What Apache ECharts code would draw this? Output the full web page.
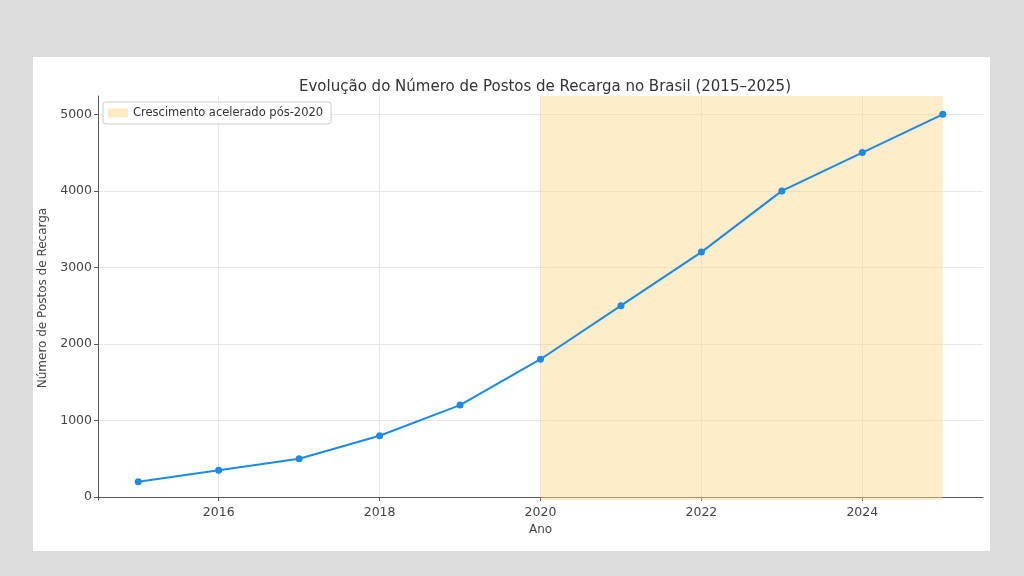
<!DOCTYPE html>
<html><head><meta charset="utf-8">
<script src="https://cdn.jsdelivr.net/npm/echarts@6/dist/echarts.min.js"></script>
<style>html,body{margin:0;padding:0;background:#dcdcdc;}#c{width:1024px;height:576px;}</style>
</head><body><div id="c"></div>
<script>
const years = [2015,2016,2017,2018,2019,2020,2021,2022,2023,2024,2025];
const postos = [200,350,500,800,1200,1800,2500,3200,4000,4500,5000];
const xTicks = [2016,2018,2020,2022,2024];
const yTicks = [0,1000,2000,3000,4000,5000];
const shadeRange = [2020,2025];
const shadeName = 'Crescimento acelerado pós-2020';
const titleText = 'Evolução do Número de Postos de Recarga no Brasil (2015–2025)';

const font = 'DejaVu Sans';
const chart = echarts.init(document.getElementById('c'));
chart.setOption({
  backgroundColor: '#dcdcdc',
  animation: false,
  textStyle: {fontFamily: font},
  graphic: [{type:'rect', z:-10, shape:{x:33,y:57,width:957,height:494}, style:{fill:'#ffffff'}}],
  title: {text: titleText, left: 540, textAlign: 'center', top: 75,
    textStyle:{fontFamily:font, fontSize:15, fontWeight:'normal', color:'#333'}},
  legend: {data:[shadeName], left:103, top:102, orient:'vertical',
    icon:'rect', itemWidth:20, itemHeight:9, itemGap:4,
    backgroundColor:'#ffffff', borderColor:'#cccccc', borderWidth:1, borderRadius:3,
    padding:[5,8,5,5],
    textStyle:{fontFamily:font, fontSize:11.5, color:'#333'}},
  grid: {left:98, right:41, top:96, bottom:76},
  xAxis: {type:'value', min:2014.5, max:2025.5, name:'Ano', nameLocation:'middle', nameGap:22,
    nameTextStyle:{fontFamily:font, fontSize:12, color:'#444'},
    axisLine:{show:true, lineStyle:{color:'#555', width:1}},
    axisTick:{show:true, length:4, customValues:xTicks, lineStyle:{color:'#555'}},
    axisLabel:{customValues:xTicks, fontFamily:font, fontSize:12.5, color:'#444', margin:6, formatter:v=>String(v)},
    splitLine:{show:true, lineStyle:{color:'#e6e6e6', type:'solid', width:1}}},
  yAxis: {type:'value', min:-40, max:5240, name:'Número de Postos de Recarga', nameLocation:'middle', nameGap:41,
    nameTextStyle:{fontFamily:font, fontSize:12, color:'#444'},
    axisLine:{show:true, lineStyle:{color:'#555', width:1}},
    axisTick:{show:true, length:4, customValues:yTicks, lineStyle:{color:'#555'}},
    axisLabel:{customValues:yTicks, fontFamily:font, fontSize:12.5, color:'#444', margin:6, formatter:v=>String(v)},
    splitLine:{show:true, lineStyle:{color:'#e6e6e6', type:'solid', width:1}}},
  series: [
    {name:shadeName, type:'line', data:[], color:'#fde9c2',
     markArea:{silent:true, itemStyle:{color:'rgba(251,217,145,0.47)', opacity:1},
       data:[[{xAxis:shadeRange[0]},{xAxis:shadeRange[1]}]]}},
    {name:'Postos', type:'line', data: years.map((y,i)=>[y,postos[i]]),
     color:'#1e88e5', lineStyle:{width:2}, symbol:'circle', symbolSize:7, z:5}
  ]
});
</script></body></html>
